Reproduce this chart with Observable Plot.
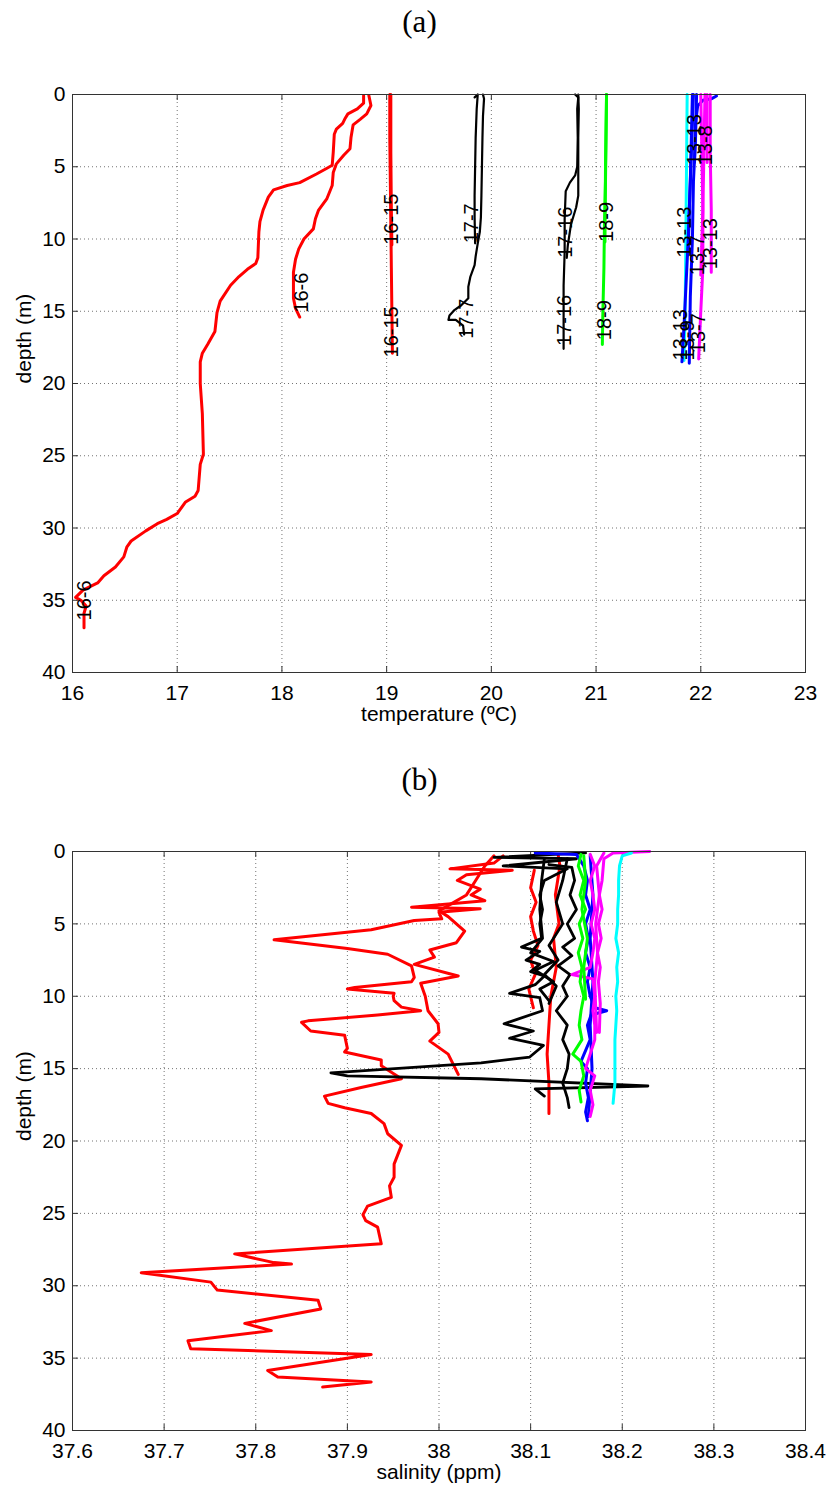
<!DOCTYPE html>
<html><head><meta charset="utf-8">
<script src="https://cdn.jsdelivr.net/npm/d3@7"></script>
<script src="https://cdn.jsdelivr.net/npm/@observablehq/plot@0.6"></script>
<style>
body{margin:0;background:#fff;}
#wrap{position:relative;width:829px;height:1488px;overflow:hidden;background:#fff;}
.ttl{position:absolute;left:5px;width:829px;text-align:center;font-family:"Liberation Serif","DejaVu Serif",serif;font-size:31px;line-height:36px;color:#000;}
.pan{position:absolute;left:0;}
</style></head>
<body><div id="wrap">
<div class="ttl" style="top:4px">(a)</div>
<div class="ttl" style="top:762px">(b)</div>
<div class="pan" id="pa" style="top:84px"></div>
<div class="pan" id="pb" style="top:841px"></div>
</div>
<script>
// ---------- axes ----------
const tempTicks = [16,17,18,19,20,21,22,23];
const salTicks = [37.6,37.7,37.8,37.9,38.0,38.1,38.2,38.3,38.4];
const depthTicks = [0,5,10,15,20,25,30,35,40];

// ---------- panel (a): temperature profiles [temperature, depth] ----------
const tRedDeep = [[18.78,0.07],[18.78,0.6],[18.72,1.0],[18.63,1.34],[18.60,1.7],[18.58,2.0],[18.52,2.4],[18.50,2.75],[18.49,4.0],[18.48,4.9],[18.43,5.1],[18.33,5.5],[18.17,6.1],[18.05,6.3],[17.92,6.6],[17.87,7.1],[17.82,8.0],[17.79,8.8],[17.78,9.5],[17.77,11.3],[17.75,11.7],[17.67,12.1],[17.59,12.6],[17.51,13.2],[17.41,14.3],[17.38,15.1],[17.36,16.4],[17.29,17.3],[17.24,17.9],[17.22,18.5],[17.22,20.0],[17.24,22.1],[17.25,24.9],[17.22,25.6],[17.20,27.4],[17.17,27.8],[17.08,28.2],[17.03,28.7],[17.0,29.0],[16.90,29.4],[16.81,29.7],[16.70,30.2],[16.56,30.9],[16.52,31.3],[16.49,32.0],[16.41,32.7],[16.30,33.3],[16.24,33.8],[16.10,34.3],[16.03,34.8],[16.08,35.0],[16.13,35.4],[16.11,35.9],[16.11,36.9]];
const tRedShallow = [[18.83,0.07],[18.85,0.76],[18.81,1.34],[18.75,1.7],[18.68,2.1],[18.66,2.95],[18.65,3.75],[18.59,4.2],[18.52,4.8],[18.49,5.4],[18.48,6.3],[18.43,7.2],[18.35,8.0],[18.32,8.6],[18.30,9.3],[18.21,10.0],[18.16,10.7],[18.13,11.4],[18.11,12.3],[18.11,14.1],[18.13,14.8],[18.17,15.4]];
const tRed1615a = [[19.03,0],[19.03,3],[19.035,6],[19.04,9],[19.045,12],[19.05,15],[19.055,17.9]];
const tRed1615b = [[19.04,0],[19.04,4],[19.045,8],[19.05,10.4]];
const tBlk177a = [[19.92,0],[19.93,0.3],[19.92,1.5],[19.915,3],[19.91,5],[19.905,7],[19.90,8.5],[19.89,9.5],[19.87,10.3],[19.85,11.2],[19.84,11.8],[19.80,12.6],[19.78,13.3],[19.78,14.1],[19.71,14.6],[19.65,14.9],[19.60,15.3],[19.59,15.6],[19.66,15.6],[19.73,16.0],[19.74,16.6]];
const tBlk177b = [[19.84,0.2],[19.87,0],[19.86,1],[19.85,3],[19.845,5],[19.84,7],[19.84,8.5],[19.845,10.3]];
const tBlk1716a = [[20.80,0],[20.83,0.2],[20.82,1],[20.825,3],[20.82,5],[20.80,5.6],[20.75,6.1],[20.71,6.7],[20.70,8.6],[20.70,10.9],[20.69,13.2],[20.69,15],[20.69,17.6]];
const tBlk1716b = [[20.83,0],[20.835,1],[20.83,3],[20.83,5],[20.83,7],[20.81,7.8],[20.76,9.0],[20.73,10.45],[20.72,11.3]];
const tGrn189a = [[21.10,0],[21.095,3],[21.09,6],[21.08,9],[21.075,12],[21.065,15],[21.06,17.3]];
const tGrn189b = [[21.10,0],[21.09,5],[21.085,10.2]];
const tBlu13a = [[21.92,0],[21.91,3],[21.90,6],[21.88,10],[21.86,13],[21.84,16],[21.82,18.5]];
const tBlu13b = [[21.96,0],[21.95,3],[21.93,6],[21.92,10],[21.90,14],[21.89,18.6]];
const tBlu13c = [[22.15,0.1],[22.10,0.3],[22.02,0.4],[21.97,0.8],[21.95,2],[21.94,4.7]];
const tBlu13d = [[21.93,0],[21.91,4],[21.89,8],[21.88,11.1]];
const tMag13a = [[22.00,0],[22.01,4],[22.02,8],[22.02,12],[22.00,15],[21.98,18.3]];
const tMag13b = [[22.09,0],[22.09,4],[22.10,8],[22.10,12.3]];
const tMag13c = [[22.04,0],[22.03,4],[22.02,8],[22.00,12.5]];
const tMag13d = [[22.06,0],[22.06,2],[22.06,4.7]];
const tCyn13 = [[21.87,0],[21.865,4],[21.86,8],[21.855,12],[21.85,15],[21.84,18.4]];

// cast labels: [text, temperature, depth at label start]
const tLabels = [["16-6",16.12,36.4],["16-6",18.19,15.1],["16-15",19.05,18.2],["16-15",19.05,10.4],
  ["17-7",19.76,16.9],["17-7",19.81,10.3],["17-16",20.70,17.4],["17-16",20.71,11.3],
  ["18-9",21.08,17.0],["18-9",21.10,10.2],
  ["13-13",21.94,4.9],["13-8",22.05,4.9],["13-13",21.85,11.3],["13-7",21.97,12.5],["13-13",22.09,12.1],
  ["13-13",21.81,18.4],["13-9",21.87,18.4],["13-7",21.98,17.9]];

// ---------- panel (b): salinity profiles [salinity, depth] ----------
const sRedDeep = [[38.07,0.3],[38.06,0.8],[38.012,1.2],[38.08,1.3],[38.03,1.6],[38.02,2.0],[38.045,2.6],[38.035,3.0],[38.05,3.4],[37.97,3.85],[38.045,3.95],[38.0,4.2],[38.003,4.65],[37.973,4.77],[37.926,5.4],[37.82,6.1],[37.90,6.7],[37.944,7.1],[37.97,7.9],[37.973,8.7],[37.97,9.0],[37.908,9.4],[37.90,9.5],[37.951,9.8],[37.95,10.0],[37.951,10.3],[37.959,10.75],[37.98,11.0],[37.933,11.3],[37.857,11.7],[37.85,11.8],[37.86,12.4],[37.897,12.7],[37.90,13.6],[37.897,13.85],[37.937,14.4],[37.937,14.8],[37.959,15.7],[37.915,16.3],[37.875,16.9],[37.879,17.4],[37.897,17.7],[37.926,18.1],[37.94,18.8],[37.944,19.5],[37.959,20.3],[37.951,21.6],[37.951,22.5],[37.946,23.1],[37.948,23.9],[37.922,24.5],[37.917,25.1],[37.92,25.5],[37.933,25.95],[37.937,27.1],[37.777,27.8],[37.82,28.4],[37.839,28.5],[37.675,29.1],[37.751,29.75],[37.758,30.3],[37.868,31.0],[37.871,31.6],[37.788,32.6],[37.817,33.1],[37.726,33.8],[37.729,34.35],[37.926,34.75],[37.813,35.85],[37.824,36.3],[37.926,36.65],[37.873,37.0]];
const sRedShallow = [[38.06,0.3],[38.05,1.0],[38.04,2.0],[38.03,3.0],[38.0,4.1],[38.01,4.5],[38.028,5.5],[38.019,6.3],[37.99,6.8],[37.995,7.3],[37.973,7.8],[38.021,8.6],[37.98,9.1],[37.985,10.0],[37.988,11.0],[37.999,11.9],[38.0,12.5],[37.99,13.1],[38.01,14.0],[38.021,15.4]];
const sRed1615a = [[38.13,0.2],[38.132,1],[38.127,3],[38.131,5],[38.125,6],[38.128,8],[38.122,10],[38.12,12],[38.118,14],[38.12,16],[38.12,18.1]];
const sRed1615b = [[38.104,1.3],[38.10,2.5],[38.106,3.5],[38.10,4.5],[38.103,5.5],[38.108,6.5],[38.10,7.5],[38.105,8.5],[38.098,9.5],[38.103,10.8]];
const sBlk177a = [[38.16,0.1],[38.06,0.4],[38.15,0.5],[38.07,1.0],[38.14,1.2],[38.115,2],[38.11,3],[38.113,4],[38.11,5],[38.112,6],[38.09,6.6],[38.11,6.9],[38.095,7.5],[38.11,7.8],[38.10,8.3],[38.115,8.6],[38.105,9.2],[38.077,9.8],[38.11,10.1],[38.113,11.0],[38.071,11.9],[38.103,12.4],[38.077,12.9],[38.114,13.4],[38.099,14.2],[38.046,14.6],[37.882,15.3],[37.90,15.5],[38.046,15.7],[38.228,16.2],[38.105,16.4],[38.115,16.9]];
const sBlk177b = [[38.115,0.5],[38.112,2],[38.11,4],[38.113,6],[38.10,7],[38.125,7.6],[38.105,8.2],[38.125,9],[38.11,9.5],[38.12,10.3]];
const sBlk1716a = [[38.12,0.9],[38.145,1.1],[38.148,2],[38.143,3],[38.15,4],[38.14,5],[38.148,6],[38.135,6.6],[38.145,7.2],[38.13,7.9],[38.143,8.5],[38.135,9.3],[38.14,10],[38.128,11],[38.14,12],[38.135,13],[38.142,14],[38.14,15],[38.135,16],[38.14,17],[38.142,17.7]];
const sBlk1716b = [[38.14,0.5],[38.135,2],[38.128,3.5],[38.135,5],[38.12,6.5],[38.13,7.5],[38.115,8.5],[38.128,9.3],[38.12,10.5]];
const sGrn189a = [[38.155,0.2],[38.152,1],[38.158,2],[38.154,3],[38.16,4],[38.153,5],[38.157,6],[38.152,7],[38.156,8],[38.154,9],[38.158,10],[38.155,11],[38.153,12],[38.156,13],[38.146,14],[38.155,14.5],[38.158,15.5],[38.153,16.5],[38.155,17.3]];
const sGrn189b = [[38.158,0.3],[38.16,2],[38.156,4],[38.162,6],[38.158,8],[38.16,10.2]];
const sBlu13a = [[38.105,0.1],[38.15,0.2],[38.158,1],[38.162,2],[38.16,3],[38.165,4],[38.16,5],[38.163,6],[38.16,7],[38.165,8],[38.162,9],[38.165,10],[38.17,10.8],[38.183,11.0],[38.166,11.3],[38.162,12],[38.165,13],[38.155,14.5],[38.162,15],[38.16,16],[38.163,17],[38.16,18],[38.162,18.6]];
const sBlu13b = [[38.165,0.3],[38.168,3],[38.165,6],[38.168,9],[38.165,12],[38.167,15],[38.163,18.3]];
const sMag13a = [[38.165,0.2],[38.17,1],[38.165,2],[38.168,3],[38.17,4],[38.166,5],[38.17,6],[38.168,7],[38.165,8],[38.145,8.5],[38.168,8.8],[38.17,10],[38.168,11],[38.17,12],[38.17,13],[38.165,14],[38.16,15],[38.17,15.5],[38.165,16.5],[38.168,17.5],[38.165,18.3]];
const sMag13b = [[38.23,0.0],[38.19,0.1],[38.18,0.5],[38.178,2],[38.175,3],[38.178,4],[38.174,5],[38.177,6],[38.173,7],[38.176,8],[38.174,9],[38.176,10.5],[38.175,12.5]];
const sMag13c = [[38.18,0.1],[38.172,1],[38.175,3],[38.171,5],[38.173,7],[38.17,9],[38.172,12.5]];
const sCyn13 = [[38.21,0.1],[38.20,0.3],[38.197,1],[38.196,2],[38.196,3],[38.195,4],[38.195,5],[38.193,6],[38.196,7],[38.194,8],[38.195,9],[38.193,10],[38.194,11],[38.193,12],[38.192,13],[38.192,14],[38.192,15],[38.192,16],[38.19,17.4]];

// ---------- build tables ----------
const RED="#ff0000", BLK="#000000", GRN="#00ff00", BLU="#0000ff", MAG="#ff00ff", CYN="#00ffff";
function table(list){
  const out=[];
  list.forEach(([arr,c,w],i)=>arr.forEach(([v,d])=>out.push({v,d,c,w,id:i})));
  return out;
}
const tempRows = table([[tRedDeep,RED,3],[tRedShallow,RED,3],[tRed1615a,RED,3],[tRed1615b,RED,3],
  [tBlk177a,BLK,2.2],[tBlk177b,BLK,2.2],[tBlk1716a,BLK,2.2],[tBlk1716b,BLK,2.2],[tGrn189a,GRN,3],[tGrn189b,GRN,3],
  [tCyn13,CYN,3],[tBlu13a,BLU,3],[tBlu13b,BLU,3],[tBlu13c,BLU,3],[tBlu13d,BLU,3],[tMag13a,MAG,3],[tMag13b,MAG,3],[tMag13c,MAG,3],[tMag13d,MAG,3]]);
const salRows = table([[sRedDeep,RED,3],[sRedShallow,RED,3],[sRed1615a,RED,3],[sRed1615b,RED,3],
  [sBlk177a,BLK,2.8],[sBlk177b,BLK,2.8],[sBlk1716a,BLK,2.8],[sBlk1716b,BLK,2.8],
  [sBlu13a,BLU,3],[sBlu13b,BLU,3],[sMag13a,MAG,3],[sMag13b,MAG,3],[sMag13c,MAG,3],[sGrn189a,GRN,3],[sGrn189b,GRN,3],[sCyn13,CYN,3]]);
const labelRows = tLabels.map(([t,v,d])=>({t,v,d}));

function panel({rows, xTicks, xDomain, xLabel, height, marginBottom, labels, fmt}){
  const ids = Array.from(new Set(rows.map(r=>r.id)));
  const marks = [
    Plot.gridX(xTicks,{stroke:"#000",strokeOpacity:0.55,strokeDasharray:"1,3"}),
    Plot.gridY(depthTicks,{stroke:"#000",strokeOpacity:0.55,strokeDasharray:"1,3"}),
    Plot.ruleX(xTicks,{x:d=>d, stroke:"#333", insetBottom: height-10-marginBottom-6}),
    Plot.ruleX(xTicks,{x:d=>d, stroke:"#333", insetTop: height-10-marginBottom-6}),
    Plot.ruleY(depthTicks,{y:d=>d, stroke:"#333", insetRight: 733-6}),
    Plot.ruleY(depthTicks,{y:d=>d, stroke:"#333", insetLeft: 733-6}),
  ];
  for(const id of ids){
    const sub = rows.filter(r=>r.id===id);
    marks.push(Plot.line(sub,{x:"v",y:"d",stroke:"c",strokeWidth:sub[0].w,curve:"linear",strokeLinejoin:"round"}));
  }
  if(labels) marks.push(Plot.text(labels,{x:"v",y:"d",text:"t",rotate:-90,textAnchor:"start",lineAnchor:"middle",fontSize:20,fill:"#000"}));
  marks.push(
    Plot.frame({stroke:"#333"}),
    Plot.axisX(xTicks,{tickSize:0,tickPadding:13,fontSize:21,tickFormat:fmt,label:null}),
    Plot.axisY(depthTicks,{tickSize:0,tickPadding:7,fontSize:21,label:null}),
    Plot.text([xLabel],{frameAnchor:"bottom",dy:48,fontSize:21,fill:"#000"}),
    Plot.text(["depth (m)"],{frameAnchor:"left",dx:-48,rotate:-90,fontSize:21,fill:"#000"})
  );
  return Plot.plot({
    width:829, height, marginTop:10, marginBottom, marginLeft:72, marginRight:24,
    style:{fontFamily:"'Liberation Sans',Arial,sans-serif",background:"#fff",overflow:"visible"},
    x:{domain:xDomain},
    y:{domain:[0,40],reverse:true},
    color:{type:"identity"},
    marks
  });
}
document.getElementById("pa").appendChild(panel({rows:tempRows,xTicks:tempTicks,xDomain:[16,23],xLabel:"temperature (ºC)",height:648,marginBottom:60,labels:labelRows,fmt:d=>String(d)}));
document.getElementById("pb").appendChild(panel({rows:salRows,xTicks:salTicks,xDomain:[37.6,38.4],xLabel:"salinity (ppm)",height:647,marginBottom:58,labels:null,fmt:d=>String(+d.toFixed(1))}));
</script>
</body></html>
